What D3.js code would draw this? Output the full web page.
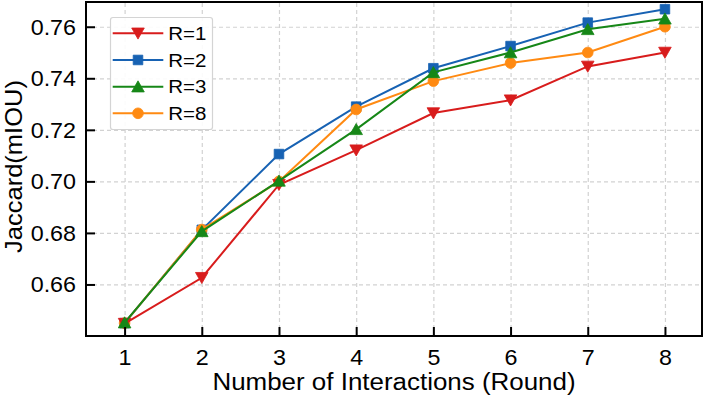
<!DOCTYPE html>
<html>
<head>
<meta charset="utf-8">
<script src="https://cdn.jsdelivr.net/npm/d3@7"></script>
<style>
  body { margin: 0; background: #fff; }
  svg { display: block; font-family: "Liberation Sans", Arial, sans-serif; }
</style>
</head>
<body>
<div id="chart"></div>
<script>
// Rounds on the x axis
const rounds = [1, 2, 3, 4, 5, 6, 7, 8];
// Series names (legend order)
const seriesNames = ["R=1", "R=2", "R=3", "R=8"];
// Jaccard (mIOU) per round for each series
const valuesR1 = [0.6448, 0.6626, 0.6987, 0.7121, 0.7265, 0.7315, 0.7446, 0.7500];
const valuesR2 = [0.6450, 0.6812, 0.7106, 0.7290, 0.7439, 0.7525, 0.7616, 0.7668];
const valuesR3 = [0.6452, 0.6806, 0.7002, 0.7202, 0.7423, 0.7500, 0.7590, 0.7631];
const valuesR8 = [0.6450, 0.6813, 0.7000, 0.7279, 0.7389, 0.7459, 0.7500, 0.7600];
// Tick values
const yTicks = [0.66, 0.68, 0.70, 0.72, 0.74, 0.76];
const xTicks = rounds;

const W = 706, H = 398;
const plot = { left: 86, right: 702, top: 2, bottom: 336 };

const series = [
  { name: seriesNames[0], values: valuesR1, color: "#d81c1c", marker: "tri-down" },
  { name: seriesNames[1], values: valuesR2, color: "#1762b3", marker: "square" },
  { name: seriesNames[2], values: valuesR3, color: "#168717", marker: "tri-up" },
  { name: seriesNames[3], values: valuesR8, color: "#ff8a12", marker: "circle" }
];
// drawing order (what ends up on top)
const drawOrder = [1, 3, 0, 2];

const x = d3.scaleLinear().domain([0.5, 8.48]).range([plot.left, plot.right]);
const y = d3.scaleLinear().domain([0.64, 0.7696]).range([plot.bottom, plot.top]);

const svg = d3.select("#chart").append("svg").attr("width", W).attr("height", H);

// grid
svg.append("g")
  .attr("transform", `translate(0,${plot.bottom})`)
  .call(d3.axisBottom(x).tickValues(xTicks).tickSize(-(plot.bottom - plot.top)).tickFormat(""))
  .call(g => g.select(".domain").remove())
  .selectAll("line").attr("stroke", "#d2d2d2").attr("stroke-width", 1.2).attr("stroke-dasharray", "4,3");
svg.append("g")
  .attr("transform", `translate(${plot.left},0)`)
  .call(d3.axisLeft(y).tickValues(yTicks).tickSize(-(plot.right - plot.left)).tickFormat(""))
  .call(g => g.select(".domain").remove())
  .selectAll("line").attr("stroke", "#d2d2d2").attr("stroke-width", 1.2).attr("stroke-dasharray", "4,3");

// marker shapes
function markerPath(type) {
  if (type === "tri-down") return "M-6.3,-5.3L6.3,-5.3L0,5.8Z";
  if (type === "tri-up") return "M-6.3,5.3L6.3,5.3L0,-5.8Z";
  if (type === "square") return "M-4.8,-4.8H4.8V4.8H-4.8Z";
  return d3.symbol(d3.symbolCircle, 90)();
}

const line = d3.line().x((d, i) => x(rounds[i])).y(d => y(d));

drawOrder.forEach(idx => {
  const s = series[idx];
  const g = svg.append("g");
  g.append("path")
    .attr("d", line(s.values))
    .attr("fill", "none")
    .attr("stroke", s.color)
    .attr("stroke-width", 2);
  g.selectAll("path.mk")
    .data(s.values)
    .enter()
    .append("path")
    .attr("class", "mk")
    .attr("d", markerPath(s.marker))
    .attr("transform", (d, i) => `translate(${x(rounds[i])},${y(d)})`)
    .attr("fill", s.color)
    .attr("stroke", s.color)
    .attr("stroke-width", 0.8);
});

// axes with inward ticks
const yAxis = svg.append("g")
  .attr("transform", `translate(${plot.left},0)`)
  .call(d3.axisLeft(y).tickValues(yTicks).tickSize(-9).tickPadding(9.4).tickFormat(d3.format(".2f")));
const xAxis = svg.append("g")
  .attr("transform", `translate(0,${plot.bottom})`)
  .call(d3.axisBottom(x).tickValues(xTicks).tickSize(-9).tickPadding(13).tickFormat(d3.format("d")));

[yAxis, xAxis].forEach(ax => {
  ax.select(".domain").remove();
  ax.selectAll("line").attr("stroke", "#000").attr("stroke-width", 2);
  ax.selectAll("text")
    .attr("fill", "#000")
    .style("font-size", "22px")
    .attr("transform", "scale(1.06,1)");
});
yAxis.selectAll("text").attr("dy", "0.34em");

// frame
svg.append("rect")
  .attr("x", plot.left).attr("y", plot.top)
  .attr("width", plot.right - plot.left).attr("height", plot.bottom - plot.top)
  .attr("fill", "none").attr("stroke", "#000").attr("stroke-width", 2);

// axis titles
svg.append("g")
  .attr("transform", `translate(${(plot.left + plot.right) / 2},389.5) scale(1.05,1)`)
  .append("text")
  .attr("text-anchor", "middle")
  .style("font-size", "24.7px")
  .text("Number of Interactions (Round)");
svg.append("g")
  .attr("transform", `translate(21.5,${(80 + 253) / 2}) rotate(-90) scale(1.1,1)`)
  .append("text")
  .attr("text-anchor", "middle")
  .style("font-size", "23.2px")
  .text("Jaccard(mIOU)");

// legend
const legend = svg.append("g");
legend.append("rect")
  .attr("x", 110.5).attr("y", 17.5).attr("width", 102).attr("height", 112)
  .attr("rx", 2.5)
  .attr("fill", "#fff").attr("fill-opacity", 0.9)
  .attr("stroke", "#d4d4d4").attr("stroke-width", 1.2);
const rowY = d3.scalePoint().domain(seriesNames).range([33.3, 113.3]);
series.forEach(s => {
  const row = legend.append("g").attr("transform", `translate(0,${rowY(s.name)})`);
  row.append("line")
    .attr("x1", 112.7).attr("x2", 163.3)
    .attr("stroke", s.color).attr("stroke-width", 2);
  row.append("path")
    .attr("d", markerPath(s.marker))
    .attr("transform", "translate(138,0)")
    .attr("fill", s.color).attr("stroke", s.color).attr("stroke-width", 0.8);
  row.append("g")
    .attr("transform", "translate(168.3,0) scale(1.08,1)")
    .append("text")
    .attr("dy", "0.36em")
    .style("font-size", "19px")
    .text(s.name);
});
</script>
</body>
</html>
